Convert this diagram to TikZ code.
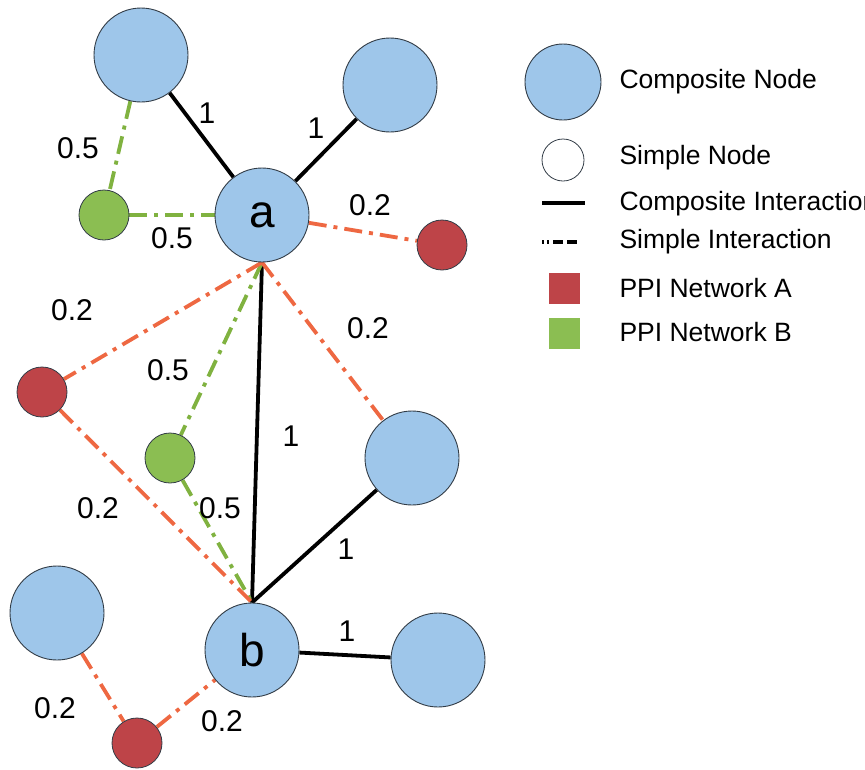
\documentclass[tikz,border=0pt]{standalone}
\usepackage{fontspec}
\setmainfont{Liberation Sans}
\usetikzlibrary{positioning}
\pgfdeclarelayer{background}
\pgfdeclarelayer{foreground}
\pgfsetlayers{background,main,foreground}
\definecolor{compblue}{RGB}{158,198,234}
\definecolor{ppired}{RGB}{190,68,72}
\definecolor{ppigreen}{RGB}{139,190,82}
\definecolor{lineorange}{RGB}{238,104,66}
\definecolor{linegreen}{RGB}{128,178,64}
\definecolor{rimgray}{RGB}{50,60,70}

\begin{document}
\begin{tikzpicture}[x=1pt,y=-1pt,
						compnode/.style={circle, draw=rimgray, line width=0.9pt, fill=compblue, minimum size=94pt, inner sep=0pt, font=\fontsize{46}{48}\selectfont},
						simplenode/.style={circle, draw=rimgray, line width=0.8pt, minimum size=50pt, inner sep=0pt},
						rednode/.style={simplenode, fill=ppired},
						greennode/.style={simplenode, fill=ppigreen},
						compline/.style={line width=3.8pt, black},
						simpleline/.style={line width=3.8pt, dash pattern=on 18pt off 7pt on 4pt off 7pt},
						weight/.style={font=\fontsize{30}{32}\selectfont},
						legendtext/.style={anchor=west, font=\fontsize{26.5}{30}\selectfont},
						]
						\useasboundingbox (0,0) rectangle (865,769);
						%Nodes
						\node[compnode]      (c1) 	at 	(141,55)           {};
						\node[compnode]      (c2) 	at 	(390,85)           {};
						\node[compnode]      (a) 	at 	(262,215)          {a};
						\node[compnode]      (c3) 	at 	(412,458)          {};
						\node[compnode]      (b) 	at 	(252,650)          {b};
						\node[compnode]      (c4) 	at 	(57,613)           {};
						\node[compnode]      (c5) 	at 	(438,660)          {};
						\node[greennode]     (g1) 	at 	(104,215)          {};
						\node[rednode]       (r1) 	at 	(442,245)          {};
						\node[rednode]       (r2) 	at 	(42,392)           {};
						\node[greennode]     (g2) 	at 	(170,458)          {};
						\node[rednode]       (r3) 	at 	(137,743)          {};

						%Weights
						\node[weight]        (w1) 	at 	(207,113)          {1};
						\node[weight]        (w2) 	at 	(316,128)          {1};
						\node[weight]        (w3) 	at 	(78,148)           {0.5};
						\node[weight]        (w4) 	at 	(172,238)          {0.5};
						\node[weight]        (w5) 	at 	(370,205)          {0.2};
						\node[weight]        (w6) 	at 	(72,310)           {0.2};
						\node[weight]        (w7) 	at 	(368,328)          {0.2};
						\node[weight]        (w8) 	at 	(168,370)          {0.5};
						\node[weight]        (w9) 	at 	(291,436)          {1};
						\node[weight]        (w10) 	at 	(98,508)           {0.2};
						\node[weight]        (w11) 	at 	(220,508)          {0.5};
						\node[weight]        (w12) 	at 	(346,549)          {1};
						\node[weight]        (w13) 	at 	(347,631)          {1};
						\node[weight]        (w14) 	at 	(55,708)           {0.2};
						\node[weight]        (w15) 	at 	(222,721)          {0.2};

						%Legend
						\node[compnode, minimum size=76pt]   (lcomp) 	at 	(563,82)   {};
						\node[simplenode, minimum size=42pt] (lsimp) 	at 	(563,160)  {};
						\coordinate (lsolidl) at (542,203);
						\coordinate (lsolidr) at (585,203);
						\coordinate (ldashl)  at (542,242);
						\coordinate (ldashr)  at (585,242);
						\node[fill=ppired, minimum size=31pt, inner sep=0pt]   (lred) 	at 	(564,288)  {};
						\node[fill=ppigreen, minimum size=31pt, inner sep=0pt] (lgreen) at 	(564,333)  {};
						\node[legendtext]    (tcomp) 	at 	(616,82)   {Composite Node};
						\node[legendtext]    (tsimp) 	at 	(616,158)  {Simple Node};
						\node[legendtext]    (tcline) 	at 	(616,204)  {Composite Interaction};
						\node[legendtext]    (tsline) 	at 	(616,242)  {Simple Interaction};
						\node[legendtext]    (tred) 	at 	(616,288)  {PPI Network A};
						\node[legendtext]    (tgreen) 	at 	(616,332)  {PPI Network B};

						\begin{pgfonlayer}{background}
						%Lines
						\draw[compline] (c1) -- (a);
						\draw[compline] (c2) -- (a);
						\draw[compline] (a.south) -- (b.north);
						\draw[compline] (b.north) -- (c3);
						\draw[compline] (b) -- (c5);

						\draw[simpleline, linegreen] (c1) -- (g1);
						\draw[simpleline, linegreen] (g1) -- (a);
						\draw[simpleline, linegreen] (a.south) -- (g2);
						\draw[simpleline, linegreen] (g2) -- (b.north);

						\draw[simpleline, lineorange] (a) -- (r1);
						\draw[simpleline, lineorange] (a.south) -- (r2);
						\draw[simpleline, lineorange] (a.south) -- (c3);
						\draw[simpleline, lineorange] (r2) -- (b.north);
						\draw[simpleline, lineorange] (c4) -- (r3);
						\draw[simpleline, lineorange] (r3) -- (b);

						\draw[compline] (lsolidl) -- (lsolidr);
						\draw[line width=3.8pt, dash pattern=on 2pt off 3pt on 2pt off 4pt on 10pt off 4pt on 10pt off 100pt] (ldashl) -- (ldashr);
						\end{pgfonlayer}
					\end{tikzpicture}
\end{document}
